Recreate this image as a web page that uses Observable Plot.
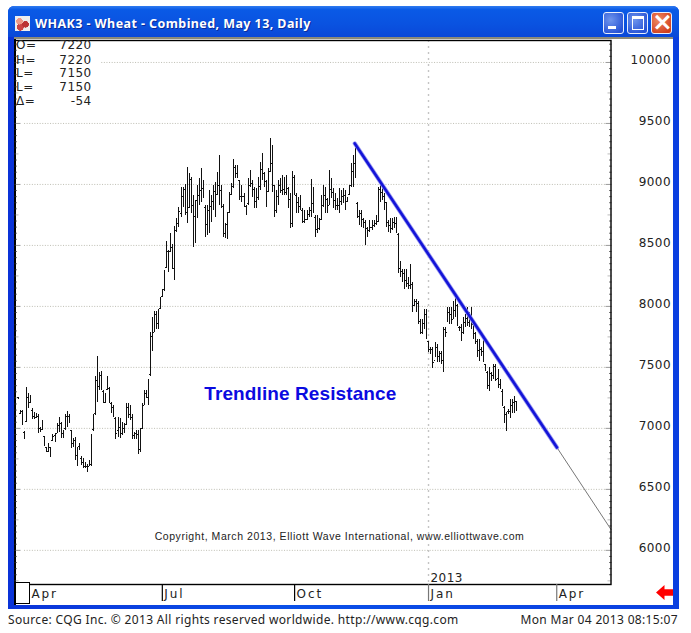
<!DOCTYPE html>
<html>
<head>
<meta charset="utf-8">
<script src="https://cdn.jsdelivr.net/npm/d3@7"></script>
<script src="https://cdn.jsdelivr.net/npm/@observablehq/plot@0.6"></script>
<style>
html,body{margin:0;padding:0;background:#fff;width:691px;height:633px;overflow:hidden}
#win{position:absolute;left:8px;top:6px;width:671px;height:603px;border-radius:6px 6px 0 0;background:linear-gradient(90deg,#0a33d8 0,#0a50e8 40%,#0a3fe0 100%)}
#bar{position:absolute;left:0;top:0;width:671px;height:31px;border-radius:6px 6px 0 0;background:linear-gradient(180deg,#2f7bf0 0,#0a5ae6 12%,#0a52e0 60%,#0a48d8 100%)}
#panel{position:absolute;left:6px;top:31px;width:659px;height:568px;background:#fff;border-top:2px solid #8d8a78;box-sizing:border-box}
#leftline{position:absolute;left:14px;top:39px;width:1.5px;height:566px;background:#000}
#box{position:absolute;left:15px;top:582px;width:13px;height:20px;border:1px solid #000;background:#fff}
#title{position:absolute;left:35px;top:15px;font:bold 12.5px "Noto Sans",sans-serif;color:#fff;letter-spacing:.42px;text-shadow:1px 1px 0 #0b2b9a;white-space:nowrap}
#icon{position:absolute;left:15px;top:16px;width:15px;height:15px;background:radial-gradient(circle at 30% 35%,#e98 0 22%,transparent 24%),radial-gradient(circle at 70% 55%,#b33 0 24%,transparent 26%),radial-gradient(circle at 35% 75%,#c44 0 22%,transparent 24%),#eee}
.btn{position:absolute;top:12px;width:19px;height:20px;border:1px solid #e8eefc;border-radius:3px;background:radial-gradient(circle at 35% 35%,#6f95ec,#2753d6 80%)}
#bclose{background:radial-gradient(circle at 35% 35%,#ee8a66,#d2401c 80%)}
#bmin::after{content:"";position:absolute;left:4px;top:13px;width:8px;height:3px;background:#fff}
#bmax::after{content:"";position:absolute;left:4px;top:3px;width:10px;height:10px;border:1px solid #fff;border-top:3px solid #fff}
#bclose::after{content:"\00D7";position:absolute;left:0;top:-6px;width:19px;text-align:center;color:#fff;font:bold 25px "DejaVu Sans",sans-serif}
#plot{position:absolute;left:0;top:0}
#plot .spaced text{letter-spacing:.45px}
#plot .months text{letter-spacing:1.9px}
#plot .copy text{letter-spacing:.56px}
#plot .note text{letter-spacing:.1px}
.ql{position:absolute;left:16px;font:12px "DejaVu Sans",sans-serif;color:#222;line-height:13px;letter-spacing:.5px}
.qv{position:absolute;width:60px;left:31.5px;text-align:right;font:12px "DejaVu Sans",sans-serif;color:#222;line-height:13px;letter-spacing:.4px}
#source{position:absolute;left:8px;top:611px;font:12px "Noto Sans",sans-serif;color:#222;white-space:nowrap;letter-spacing:.34px}
#stamp{position:absolute;right:13px;top:611px;font:12px "Noto Sans",sans-serif;color:#222;white-space:nowrap;letter-spacing:.34px}
#arrow{position:absolute;left:656px;top:585px;width:17px;height:15px;background:#f00;clip-path:polygon(0 50%,50% 0,50% 28%,100% 28%,100% 72%,50% 72%,50% 100%)}
</style>
</head>
<body>
<div id="win"><div id="bar"></div><div id="panel"></div></div>
<div id="leftline"></div>
<div id="icon"></div>
<div id="title"></div>
<div class="btn" id="bmin" style="left:603px"></div>
<div class="btn" id="bmax" style="left:627px"></div>
<div class="btn" id="bclose" style="left:651px"></div>
<div id="plot"></div>
<div id="box"></div>
<div id="arrow"></div>
<div id="source"></div>
<div id="stamp"></div>
<script>
const chartTitle = "WHAK3 - Wheat - Combined, May 13, Daily";
const sourceText = "Source: CQG Inc. \u00A9 2013 All rights reserved worldwide. http://www.cqg.com";
const stampText = "Mon Mar 04 2013 08:15:07";
const copyrightText = "Copyright, March 2013, Elliott Wave International, www.elliottwave.com";
const annotationText = "Trendline Resistance";
const quoteLabels = ["O=","H=","L=","L=","\u0394="];
const quoteValues = ["7220","7220","7150","7150","-54"];

const highs = [
7250,7146,7146,6977,7337,7283,7269,7160,7132,7119,
7113,7004,7064,6936,6845,6873,6845,6947,6955,7037,
7091,7050,6982,7113,7141,7113,6982,6914,6927,6840,
6873,6769,6750,6722,6703,6736,6949,7113,7425,7589,
7460,7466,7310,7283,7425,7337,7214,7187,7091,7091,
7078,7050,7037,7201,7201,7187,7113,6968,6982,6982,
6996,7201,7310,7310,7397,
7783,7906,7960,7960,7974,8070,8138,8297,8529,8460,
8596,8507,8655,8718,8808,8977,8977,8997,9136,9087,
9059,8909,8868,8991,9046,9128,9032,8827,8827,8950,
8909,8991,9018,9100,9237,8991,8835,8677,8772,8936,
9005,9201,9155,9155,9032,8991,8923,8827,9046,9114,
9032,8977,8964,9059,9182,9251,9100,9032,9128,9374,
9319,8991,8950,9032,9046,9073,9059,9073,8977,8923,
9109,9073,8923,8895,8909,8800,8786,8786,8813,9038,
8977,8745,8745,8718,8909,8991,8977,8882,9114,9046,
8964,8923,8882,8964,8950,8964,8950,8895,8991,9169,
9237,9319,8854,8786,8786,8718,8704,8649,8704,8704,
8704,8745,8977,9005,8964,8923,8854,8704,8718,8718,
8731,8731,8600,8369,8306,8306,8301,8233,8342,8192,
8055,8055,8041,7891,7891,7973,7973,7713,7659,7659,
7700,7686,7631,7631,7823,7823,7987,7987,7987,8041,
8082,8014,7836,7850,7905,7932,7987,7946,7995,7877,
7782,7727,7727,7659,7727,7522,7467,7495,7454,7522,
7522,7481,7399,7317,7180,7126,7153,7235,7235,7262,
7220];
const lows = [
7240,7113,7023,6911,7050,7160,7201,7070,7070,7078,
6955,6968,6982,6851,6804,6804,6758,6895,6886,6955,
6968,6914,6914,6982,7004,7037,6832,6840,6736,6687,
6818,6695,6668,6668,6640,6687,6687,6977,7105,7214,
7310,7310,7201,7201,7310,7201,7119,7091,6906,6927,
6914,6941,6955,7023,7078,7064,6906,6906,6906,6785,
6804,6988,7187,7242,7187,
7427,7632,7783,7810,7810,7974,8070,8124,8307,8275,
8439,8302,8212,8608,8649,8731,8813,8745,8677,8800,
8759,8485,8513,8718,8827,8854,8882,8567,8581,8595,
8690,8786,8731,8909,8827,8800,8567,8554,8546,8759,
8909,8964,9046,9046,8868,8854,8813,8745,8827,8977,
8895,8800,8800,8868,8950,9032,8977,8813,8936,9100,
8936,8731,8759,8827,8923,8909,8909,8909,8800,8636,
8649,8909,8759,8759,8786,8677,8677,8704,8731,8731,
8759,8567,8595,8622,8704,8813,8759,8759,8827,8882,
8800,8786,8786,8759,8827,8841,8786,8854,8909,8977,
8977,9046,8718,8663,8649,8636,8499,8567,8608,8622,
8649,8663,8690,8854,8868,8786,8649,8608,8595,8622,
8636,8595,8272,8233,8192,8137,8151,8137,8137,7946,
8000,7946,7850,7768,7768,7809,7727,7618,7604,7487,
7577,7536,7536,7522,7454,7741,7864,7850,7850,7891,
7905,7836,7795,7713,7768,7823,7836,7823,7809,7727,
7686,7577,7549,7590,7536,7467,7317,7303,7385,7399,
7385,7331,7317,7180,7044,6976,7112,7085,7126,7126,
7150];
const closes = [
7245,7130,7060,6930,7250,7200,7240,7090,7110,7100,
6990,6990,7050,6880,6830,6850,6790,6930,6930,7020,
7060,6950,6950,7090,7110,7060,6880,6860,6770,6710,
6840,6720,6700,6700,6670,6720,6930,7090,7380,7300,
7420,7340,7230,7260,7350,7230,7160,7110,6960,7000,
6960,7000,7020,7180,7100,7090,6960,6950,6950,6840,
6980,7170,7270,7260,7380,
7760,7720,7920,7870,7960,8040,8130,8280,8480,8330,
8560,8400,8600,8640,8780,8900,8950,8780,8760,9050,
8830,8720,8840,8900,8950,8980,8940,8650,8780,8830,
8850,8950,8850,9010,8950,8880,8590,8660,8740,8900,
8960,9170,9100,9080,8900,8920,8850,8820,8980,9000,
8950,8850,8900,8980,9130,9100,9040,8900,9060,9200,
9000,8800,8900,8980,8960,8960,8950,8990,8860,8670,
9050,8920,8850,8830,8810,8700,8720,8760,8780,8820,
8820,8640,8640,8650,8840,8900,8900,8820,8950,8930,
8880,8840,8820,8850,8900,8900,8850,8870,8960,9100,
9180,9100,8750,8750,8700,8680,8620,8620,8650,8660,
8700,8700,8950,8940,8900,8850,8680,8660,8650,8680,
8670,8620,8300,8280,8260,8200,8200,8160,8180,7980,
8040,8010,7880,7800,7870,7920,7750,7650,7640,7540,
7650,7590,7600,7560,7800,7780,7940,7920,7900,7960,
8030,7860,7820,7780,7870,7900,7860,7900,7840,7760,
7720,7640,7700,7620,7560,7480,7350,7460,7420,7500,
7400,7350,7340,7200,7090,7130,7130,7180,7200,7215,
7150];
const opens = [
7250,7125,7140,6970,7060,7250,7210,7150,7100,7090,
7100,7000,6990,6930,6840,6810,6840,6900,6940,6960,
7020,7040,6960,7000,7100,7100,6980,6880,6900,6780,
6850,6750,6720,6690,6690,6690,6700,6990,7120,7390,
7340,7430,7300,7210,7320,7330,7200,7170,7080,6980,
7010,6960,7000,7030,7170,7110,7090,6940,6960,6950,
6830,7000,7190,7290,7250,
7440,7750,7790,7930,7860,7980,8080,8140,8320,8450,
8450,8480,8310,8620,8680,8760,8900,8960,8770,8810,
9040,8830,8740,8870,8910,8950,8970,8810,8670,8790,
8820,8860,8940,8920,8990,8950,8820,8600,8670,8770,
8920,8980,9140,9090,9030,8900,8900,8820,8840,8990,
9010,8960,8860,8890,8980,9120,9090,9020,8940,9110,
9170,8990,8790,8900,8990,8950,8960,8930,8970,8880,
8680,9060,8910,8850,8820,8790,8700,8710,8750,8790,
8840,8730,8630,8640,8710,8830,8910,8880,8830,8960,
8930,8870,8830,8830,8860,8900,8910,8860,8920,8990,
9110,9170,8840,8740,8760,8710,8690,8640,8620,8650,
8660,8680,8700,8960,8930,8900,8850,8690,8660,8640,
8690,8680,8590,8310,8290,8270,8210,8190,8170,8180,
8010,8040,8020,7880,7790,7860,7930,7710,7650,7650,
7560,7660,7590,7610,7560,7810,7790,7950,7930,7890,
7970,8010,7830,7830,7790,7870,7900,7870,7900,7850,
7780,7710,7640,7650,7630,7520,7460,7350,7450,7430,
7510,7410,7360,7300,7170,7110,7140,7140,7190,7210,
7220];

const priceLabels = [6000,6500,7000,7500,8000,8500,9000,9500,10000];
const monthLabels = ["Apr","Jul","Oct","Jan","Apr"];
const monthSessions = [5.4,70.8,135.9,201.8,264.9];
const trendSessions = [165.5,265];
const trendPrices = [9336,6843];
const extensionSessions = [265,291.6];
const extensionPrices = [6843,6171];
const yearLabel = "2013";
const yearSession = 201.8;

document.getElementById("title").textContent = chartTitle;
document.getElementById("source").textContent = sourceText;
document.getElementById("stamp").textContent = stampText;
const quoteTops = [38.5,53.5,67,81,95];
quoteLabels.forEach((t,i)=>{
  const a=document.createElement("div");a.className="ql";a.style.top=quoteTops[i]+"px";a.textContent=t;document.body.appendChild(a);
  const b=document.createElement("div");b.className="qv";b.style.top=quoteTops[i]+"px";b.textContent=quoteValues[i];document.body.appendChild(b);
});

const sessions = highs.map((_,i)=>i);
const fifties = d3.range(5750,10180,50);
const small = fifties.filter(v=>v%250!==0);
const mid = fifties.filter(v=>v%250===0&&v%500!==0);
const major = fifties.filter(v=>v%500===0);
const trendRows = trendSessions.map((s,i)=>({s,p:trendPrices[i]}));
const extRows = extensionSessions.map((s,i)=>({s,p:extensionPrices[i]}));
const axisFont = {fontFamily:"DejaVu Sans, sans-serif",fontSize:12};
const sideTicks = (anchor)=>[
  Plot.axisY(small,{anchor,tickSize:-2.5,tickFormat:()=>"",label:null,stroke:"#777"}),
  Plot.axisY(mid,{anchor,tickSize:-4,tickFormat:()=>"",label:null,stroke:"#bbb"}),
  Plot.axisY(major,{anchor,tickSize:-6,tickFormat:()=>"",label:null,stroke:"#999"})
];

const chart = Plot.plot({
  width:691,height:633,
  marginLeft:14.5,marginRight:80.5,marginTop:40,marginBottom:49,
  style:{background:"transparent",overflow:"visible"},
  x:{type:"linear",domain:[-1.7,291.6],axis:null},
  y:{type:"linear",domain:[5720,10180],axis:null},
  marks:[
    Plot.ruleY(priceLabels.filter(v=>v<10000),{x1:3,x2:289,stroke:"#bdbdb2",strokeWidth:1,strokeDasharray:"1 1.6"}),
    Plot.ruleY(priceLabels.filter(v=>v===10000),{x1:41,x2:289,stroke:"#bdbdb2",strokeWidth:1,strokeDasharray:"1 1.6"}),
    Plot.ruleX([yearSession],{stroke:"#c4c4c4",strokeWidth:1.4,strokeDasharray:"2 4"}),
    ...sideTicks("left"),...sideTicks("right"),
    Plot.ruleX(sessions,{x:i=>i,y1:i=>lows[i],y2:i=>highs[i],stroke:"#111",strokeWidth:1,shapeRendering:"crispEdges"}),
    Plot.ruleY(sessions,{y:i=>closes[i],x1:i=>i,x2:i=>i+0.5,stroke:"#111",strokeWidth:1,shapeRendering:"crispEdges"}),
    Plot.ruleY(sessions,{y:i=>opens[i],x1:i=>i-0.5,x2:i=>i,stroke:"#111",strokeWidth:1,shapeRendering:"crispEdges"}),
    Plot.line(extRows,{x:"s",y:"p",stroke:"#777",strokeWidth:1}),
    Plot.line(trendRows,{x:"s",y:"p",stroke:"#9a9af0",strokeWidth:4.2}),
    Plot.line(trendRows,{x:"s",y:"p",stroke:"#1414d8",strokeWidth:2.6}),
    Plot.frame({stroke:"#000",strokeWidth:1.4}),
    Plot.axisX(monthSessions.slice(1,3),{anchor:"bottom",tickSize:17,tickFormat:()=>"",label:null,stroke:"#000",strokeWidth:1.2}),
    Plot.axisX(monthSessions.slice(3),{anchor:"bottom",tickSize:17,tickFormat:()=>"",label:null,stroke:"#777",strokeWidth:1.2}),
    Plot.text(monthSessions,{x:d=>d,frameAnchor:"bottom",dy:13,dx:2,textAnchor:"start",text:(d,i)=>monthLabels[i],...axisFont,fill:"#222",className:"months"}),
    Plot.text(priceLabels,{y:d=>d,frameAnchor:"right",dx:60,dy:-2,textAnchor:"end",text:d=>String(d),...axisFont,fill:"#222",className:"spaced"}),
    Plot.text([yearLabel],{x:yearSession,frameAnchor:"bottom",dy:-3,dx:2,textAnchor:"start",text:d=>d,...axisFont,fill:"#222",className:"spaced"}),
    Plot.text([copyrightText],{x:158,y:6113,text:d=>d,fontFamily:"Liberation Sans, sans-serif",fontSize:10.5,fill:"#222",className:"copy"}),
    Plot.text([annotationText],{x:138.7,y:7286,text:d=>d,fontFamily:"Liberation Sans, sans-serif",fontSize:19,fontWeight:"bold",fill:"#0a0ae0",className:"note"})
  ]
});
document.getElementById("plot").appendChild(chart);
</script>
</body>
</html>
